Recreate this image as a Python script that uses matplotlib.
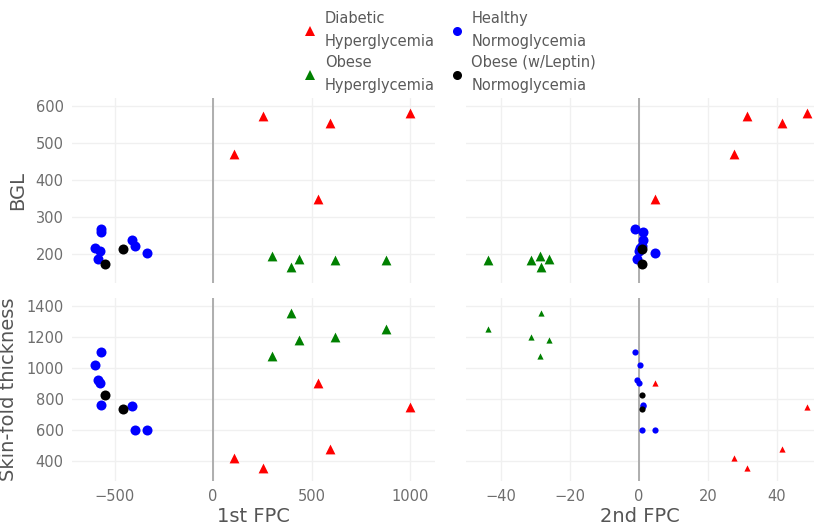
import matplotlib
matplotlib.use("Agg")
import matplotlib.pyplot as plt
from matplotlib.lines import Line2D

plt.rcParams["font.family"] = ["DejaVu Sans"]

# one entry per subject: 1st FPC score, 2nd FPC score, BGL, skin-fold thickness
diab_fpc1 = [108, 252, 535, 596, 998]
diab_fpc2 = [27.4, 31.2, 4.7, 41.4, 48.6]
diab_bgl = [470, 574, 348, 553, 582]
diab_skin = [420, 355, 900, 475, 745]

obhyp_fpc1 = [300, 397, 434, 618, 877]
obhyp_fpc2 = [-28.6, -28.5, -26.2, -31.4, -43.6]
obhyp_bgl = [193, 163, 187, 184, 184]
obhyp_skin = [1075, 1350, 1180, 1200, 1250]

healthy_fpc1 = [-600, -570, -567, -574, -584, -411, -396, -333]
healthy_fpc2 = [0.4, -1.2, 1.2, -0.1, -0.7, 1.3, 1.0, 4.6]
healthy_bgl = [215, 268, 260, 207, 187, 236, 221, 202]
healthy_skin = [1020, 1100, 760, 900, 920, 750, 600, 600]

lep_fpc1 = [-547, -456]
lep_fpc2 = [0.8, 1.0]
lep_bgl = [173, 212]
lep_skin = [822, 735]

groups = [
    ("Diabetic\nHyperglycemia", "#ff0000", "^", diab_fpc1, diab_fpc2, diab_bgl, diab_skin),
    ("Obese\nHyperglycemia", "#008000", "^", obhyp_fpc1, obhyp_fpc2, obhyp_bgl, obhyp_skin),
    ("Healthy\nNormoglycemia", "#0000ff", "o", healthy_fpc1, healthy_fpc2, healthy_bgl, healthy_skin),
    ("Obese (w/Leptin)\nNormoglycemia", "#000000", "o", lep_fpc1, lep_fpc2, lep_bgl, lep_skin),
]

TICK_C = "#6e6e6e"
TITLE_C = "#555555"
GRID_C = "#f0f0f0"
ZERO_C = "#a8a8a8"

fig = plt.figure(figsize=(8.15, 5.27), dpi=100)
W, H = 815, 527


def box(x0, y0, x1, y1):
    return [x0 / W, 1 - y1 / H, (x1 - x0) / W, (y1 - y0) / H]


ax_tl = fig.add_axes(box(72, 98, 435, 283))
ax_tr = fig.add_axes(box(466, 98, 814, 283))
ax_bl = fig.add_axes(box(72, 298, 435, 481))
ax_br = fig.add_axes(box(466, 298, 814, 481))

for name, col, mk, f1, f2, bgl, skin in groups:
    big = 52 if mk == "o" else 50
    small = 20
    ax_tl.scatter(f1, bgl, s=big, marker=mk, color=col, lw=0, zorder=3)
    ax_tr.scatter(f2, bgl, s=big, marker=mk, color=col, lw=0, zorder=3)
    ax_bl.scatter(f1, skin, s=big, marker=mk, color=col, lw=0, zorder=3)
    ax_br.scatter(f2, skin, s=small, marker=mk, color=col, lw=0, zorder=3)

for ax in (ax_tl, ax_tr, ax_bl, ax_br):
    for sp in ax.spines.values():
        sp.set_visible(False)
    ax.grid(True, color=GRID_C, lw=1)
    ax.set_axisbelow(True)
    ax.tick_params(length=0, colors=TICK_C, labelsize=10.5, pad=6)
    ax.axvline(0, color=ZERO_C, lw=1.3, zorder=1)

for ax in (ax_tl, ax_bl):
    ax.set_xlim(-716, 1127)
    ax.set_xticks([-500, 0, 500, 1000])
for ax in (ax_tr, ax_br):
    ax.set_xlim(-50.1, 50.7)
    ax.set_xticks([-40, -20, 0, 20, 40])
    ax.tick_params(labelleft=False)

ax_tl.set_ylim(120.7, 621.7)
ax_tr.set_ylim(120.7, 621.7)
ax_tl.set_yticks([200, 300, 400, 500, 600])
ax_tr.set_yticks([200, 300, 400, 500, 600])
ax_bl.set_ylim(269, 1450)
ax_br.set_ylim(269, 1450)
ax_bl.set_yticks([400, 600, 800, 1000, 1200, 1400])
ax_br.set_yticks([400, 600, 800, 1000, 1200, 1400])
ax_tl.tick_params(labelbottom=False)
ax_tr.tick_params(labelbottom=False)

ax_tl.set_ylabel("BGL", fontsize=14, color=TITLE_C, labelpad=6)
ax_bl.set_ylabel("Skin-fold thickness", fontsize=14, color=TITLE_C, labelpad=6)
ax_bl.set_xlabel("1st FPC", fontsize=14, color=TITLE_C, labelpad=2)
ax_br.set_xlabel("2nd FPC", fontsize=14, color=TITLE_C, labelpad=2)

handles = [Line2D([], [], ls="none", marker=mk, color=col, ms=6.5 if mk == "o" else 7, mew=0)
           for _, col, mk, *_ in groups]
labels = [g[0] for g in groups]
leg = fig.legend(handles, labels, loc="upper left", bbox_to_anchor=(290 / W, 1.004),
                 ncol=2, frameon=False, fontsize=10.5, handlelength=1.0,
                 handletextpad=0.5, columnspacing=1.0, labelspacing=0.45,
                 labelcolor="#5a5a5a")
for t in leg.get_texts():
    t.set_linespacing(1.65)

fig.savefig("out.png", dpi=100)
